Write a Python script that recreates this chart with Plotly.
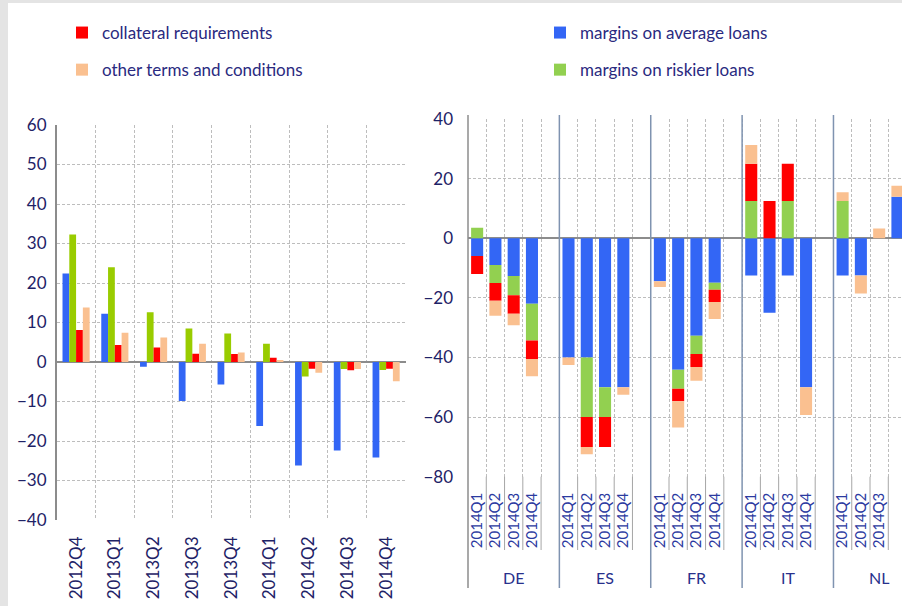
import numpy as np
import plotly.graph_objects as go

# left panel: euro area, changes over time
quarters_l = ["2012Q4", "2013Q1", "2013Q2", "2013Q3", "2013Q4", "2014Q1", "2014Q2", "2014Q3", "2014Q4"]
avg_l = [22.4, 12.2, -1.2, -9.9, -5.7, -16.2, -26.2, -22.4, -24.2]
risk_l = [32.3, 24.0, 12.6, 8.5, 7.2, 4.6, -3.7, -1.8, -2.0]
coll_l = [8.1, 4.3, 3.7, 2.1, 2.0, 1.1, -1.7, -2.1, -1.7]
other_l = [13.8, 7.4, 6.2, 4.6, 2.4, 0.3, -2.7, -1.8, -4.9]

# right panel: countries x 2014 quarters
countries = ["DE", "ES", "FR", "IT", "NL"]
quarters_r = ["2014Q1", "2014Q2", "2014Q3", "2014Q4"]
avg_r = [-6, -9, -12.7, -22,  -40, -40, -50, -50,  -14.4, -44.1, -32.7, -14.9,
         -12.5, -25, -12.5, -50,  -12.5, -12.5, 0, 13.9]
risk_r = [3.5, -6, -6.4, -12.3,  0, -20, -10, 0,  0, -6.4, -6.1, -2.4,
          12.5, 0, 12.5, 0,  12.5, 0, 0, 0]
coll_r = [-6, -6, -6.2, -6.2,  0, -10, -10, 0,  0, -4.2, -4.4, -4.1,
          12.5, 12.5, 12.5, 0,  0, 0, 0, 0]
other_r = [0, -5, -3.9, -5.8,  -2.5, -2.5, 0, -2.5,  -2, -8.8, -4.6, -5.7,
           6.3, 0, 0, -9.3,  2.9, -6, 3.3, 3.7]

BLUE = "#3366F5"
GREEN_L = "#99CC00"
GREEN_R = "#92D050"
RED = "#FF0000"
ORANGE = "#FAC090"
NAVY = "#1E2266"
GRID = "#BDBDBD"
FONT = "Lato"

W, H = 902, 606
slots = 5  # 4 quarters + one empty slot per country
xr = [slots * g + q for g in range(len(countries)) for q in range(len(quarters_r))]
xr_text = [q for _ in countries for q in quarters_r]

fig = go.Figure()

for name, vals, col in [("margins on average loans", avg_l, BLUE),
                        ("margins on riskier loans", risk_l, GREEN_L),
                        ("collateral requirements", coll_l, RED),
                        ("other terms and conditions", other_l, ORANGE)]:
    fig.add_trace(go.Bar(x=quarters_l, y=vals, name=name, marker=dict(color=col, line=dict(width=0)),
                         showlegend=False, xaxis="x", yaxis="y"))

# stacked (relative) bars on the right, bases computed from the data
series_r = [("margins on average loans", avg_r, BLUE, "legend2"),
            ("margins on riskier loans", risk_r, GREEN_R, "legend2"),
            ("collateral requirements", coll_r, RED, "legend"),
            ("other terms and conditions", other_r, ORANGE, "legend")]
pos = np.zeros(len(xr))
neg = np.zeros(len(xr))
for name, vals, col, lg in series_r:
    v = np.array(vals, dtype=float)
    base = np.where(v >= 0, pos, neg)
    pos += np.clip(v, 0, None)
    neg += np.clip(v, None, 0)
    fig.add_trace(go.Bar(x=xr, y=v, base=base, name=name, width=0.66, offsetgroup="stack",
                         marker=dict(color=col, line=dict(width=0)),
                         legend=lg, legendgroup=name, xaxis="x2", yaxis="y2"))

def py(px):
    return (H - px) / H

def pxx(px):
    return px / W

y2_bot, y2_top = py(476.7), py(119)
shapes = [
    dict(type="rect", xref="paper", yref="paper", x0=0, x1=pxx(8), y0=0, y1=1,
         fillcolor="#E4E4E4", line=dict(width=0), layer="below"),
    dict(type="rect", xref="paper", yref="paper", x0=0, x1=1, y0=py(3), y1=1,
         fillcolor="#E4E4E4", line=dict(width=0), layer="below"),
    dict(type="line", xref="paper", yref="paper", x0=pxx(468), x1=pxx(468), y0=py(588), y1=py(115),
         line=dict(color="#8C8C8C", width=1.5)),
]
# lines between the quarter labels
for k in range(1, slots * len(countries)):
    b = k - 0.5
    if b > 23.2:
        break
    if k % slots == 0:
        shapes.append(dict(type="line", xref="x2", yref="paper", x0=b, x1=b, y0=py(588), y1=py(115),
                           line=dict(color="#7F93B0", width=1.5)))
    else:
        shapes.append(dict(type="line", xref="x2", yref="paper", x0=b, x1=b, y0=py(550), y1=y2_bot,
                           line=dict(color="#A6A6A6", width=1)))

annotations = [dict(x=slots * g + 2, y=py(577), xref="x2", yref="paper", text=c, showarrow=False,
                    yanchor="middle", font=dict(family=FONT, size=16, color="#28308C"))
               for g, c in enumerate(countries)]

layout = go.Layout(
    width=W, height=H, autosize=False,
    margin=dict(l=0, r=0, t=0, b=0, pad=0, autoexpand=False),
    paper_bgcolor="white", plot_bgcolor="white",
    font=dict(family=FONT, color=NAVY),
    barmode="group", bargap=0.3, bargroupgap=0,
    xaxis=dict(
        domain=[pxx(56.7), pxx(405.5)], anchor="y", type="category", automargin=False,
        range=[-0.5, 8.5], tickson="boundaries", ticks="",
        showgrid=True, gridcolor=GRID, griddash="3px,2px", gridwidth=1,
        tickangle=-90, tickfont=dict(size=17, color=NAVY), ticklabelstandoff=12,
    ),
    yaxis=dict(
        domain=[py(520), py(125)], anchor="x", range=[-40, 60], dtick=10, automargin=False,
        showgrid=True, gridcolor=GRID, griddash="3px,2px",
        zeroline=True, zerolinecolor="#8C8C8C", zerolinewidth=1.5,
        showline=True, linecolor="#8C8C8C", linewidth=1.5,
        tickfont=dict(size=17, color=NAVY), ticklabelstandoff=5,
    ),
    xaxis2=dict(
        domain=[pxx(468), 1], anchor="y2", range=[-0.5, 23.25], automargin=False,
        tickvals=xr, ticktext=xr_text, tickangle=-90, ticks="",
        showgrid=False, zeroline=False,
        minor=dict(tick0=-0.5, dtick=1, showgrid=True, gridcolor=GRID, griddash="3px,2px"),
        tickfont=dict(size=15, color="#2B3AA0"), ticklabelstandoff=12,
    ),
    yaxis2=dict(
        domain=[y2_bot, y2_top], anchor="x2", range=[-80, 40], dtick=20, automargin=False,
        showgrid=True, gridcolor=GRID, griddash="3px,2px",
        zeroline=True, zerolinecolor="#8C8C8C", zerolinewidth=1.5,
        tickfont=dict(size=17, color=NAVY), ticklabelstandoff=14,
    ),
    legend=dict(x=pxx(62), y=py(15), xanchor="left", yanchor="top",
                font=dict(size=17, color="#2A2A80"), tracegroupgap=12,
                bgcolor="rgba(0,0,0,0)"),
    legend2=dict(x=pxx(540), y=py(15), xanchor="left", yanchor="top",
                 font=dict(size=17, color="#2A2A80"), tracegroupgap=12,
                 bgcolor="rgba(0,0,0,0)"),
    shapes=shapes,
    annotations=annotations,
)
fig.update_layout(layout)

fig.write_html("out.html", config=dict(displayModeBar=False, responsive=False),
               post_script="document.body.style.margin='0';")
